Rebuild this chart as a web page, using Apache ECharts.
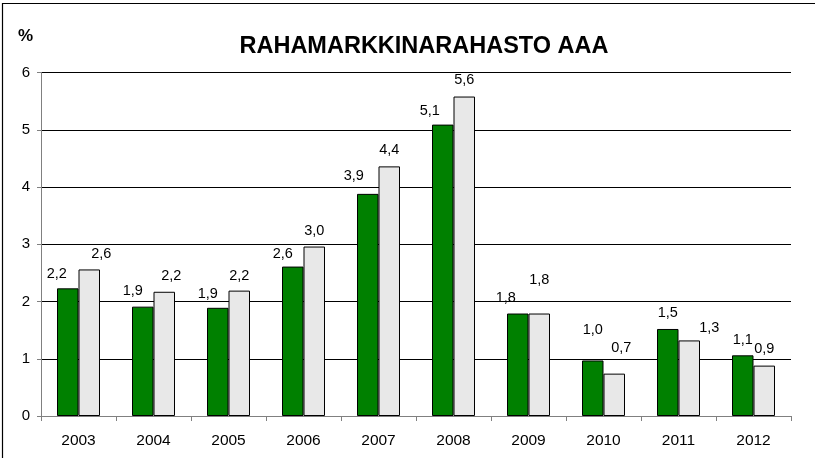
<!DOCTYPE html>
<html>
<head>
<meta charset="utf-8">
<script src="https://cdn.jsdelivr.net/npm/echarts@6/dist/echarts.min.js"></script>
<style>
  html, body { margin: 0; padding: 0; background: #fff; }
  #chart { width: 815px; height: 458px; }
</style>
</head>
<body>
<div id="chart"></div>
<script>
// vuodet ja tuotot (%)
var years = ['2003', '2004', '2005', '2006', '2007', '2008', '2009', '2010', '2011', '2012'];
var greenValues = [2.23, 1.91, 1.89, 2.61, 3.88, 5.09, 1.79, 0.97, 1.52, 1.06];
var grayValues = [2.56, 2.17, 2.19, 2.96, 4.36, 5.58, 1.79, 0.74, 1.32, 0.88];
var yTicks = [0, 1, 2, 3, 4, 5, 6];

// label nudges, as placed by hand in the original
var greenLabelShift = [[-11, 1], [-10, 0], [-10, 2], [-10, 3], [-14, -2], [-13, 2], [-12, 0], [0, -15], [0, 0], [0, 0]];
var grayLabelShift = [[12, 0], [7, 0], [0, 1], [0, 0], [0, -1], [0, -1], [0, -18], [7, -10], [20, 3], [0, -1]];

var FONT = 'Liberation Sans, Arial, sans-serif';

function fmt(v) {
    return v.toFixed(1).replace('.', ',');
}

function buildData(values, shifts) {
    return values.map(function (v, i) {
        return { value: v, label: { offset: shifts[i] } };
    });
}

var barLabel = {
    show: true,
    position: 'top',
    distance: 8,
    fontSize: 14.5,
    color: '#000',
    formatter: function (p) { return fmt(p.value); }
};

var myChart = echarts.init(document.getElementById('chart'));
var option = {
    backgroundColor: '#fff',
    animation: false,
    textStyle: { fontFamily: FONT },
    title: {
        text: 'RAHAMARKKINARAHASTO AAA',
        left: 419,
        textAlign: 'center',
        top: 30,
        textStyle: { fontSize: 23.5, fontWeight: 'bold', color: '#000', fontFamily: FONT }
    },
    graphic: [
        {
            type: 'rect',
            shape: { x: 2.5, y: 3.5, width: 900, height: 600 },
            style: { fill: 'none', stroke: '#000', lineWidth: 1.2 },
            silent: true
        },
        {
            type: 'text',
            left: 18,
            top: 28,
            style: { text: '%', fontSize: 17, fontWeight: 'bold', fill: '#000', fontFamily: FONT }
        }
    ],
    grid: { left: 41, right: 24, top: 72.5, bottom: 42 },
    xAxis: {
        type: 'category',
        data: years,
        axisLine: { lineStyle: { color: '#808080', width: 1 } },
        axisTick: { show: true, length: 5, lineStyle: { color: '#808080' } },
        axisLabel: { color: '#000', fontSize: 15.5, margin: 17 }
    },
    yAxis: {
        type: 'value',
        min: yTicks[0],
        max: yTicks[yTicks.length - 1],
        interval: 1,
        axisLine: { show: true, lineStyle: { color: '#808080', width: 1 } },
        axisTick: { show: true, length: 4, lineStyle: { color: '#808080' } },
        axisLabel: { color: '#000', fontSize: 15, margin: 11 },
        splitLine: { lineStyle: { color: '#000', width: 1 } }
    },
    series: [
        {
            type: 'bar',
            barWidth: 21.5,
            barGap: '0%',
            itemStyle: { color: '#008000', borderColor: '#000', borderWidth: 1 },
            label: barLabel,
            data: buildData(greenValues, greenLabelShift)
        },
        {
            type: 'bar',
            barWidth: 21.5,
            barGap: '0%',
            itemStyle: { color: '#e8e8e8', borderColor: '#000', borderWidth: 1 },
            label: barLabel,
            data: buildData(grayValues, grayLabelShift)
        }
    ]
};
option && myChart.setOption(option);
</script>
</body>
</html>
